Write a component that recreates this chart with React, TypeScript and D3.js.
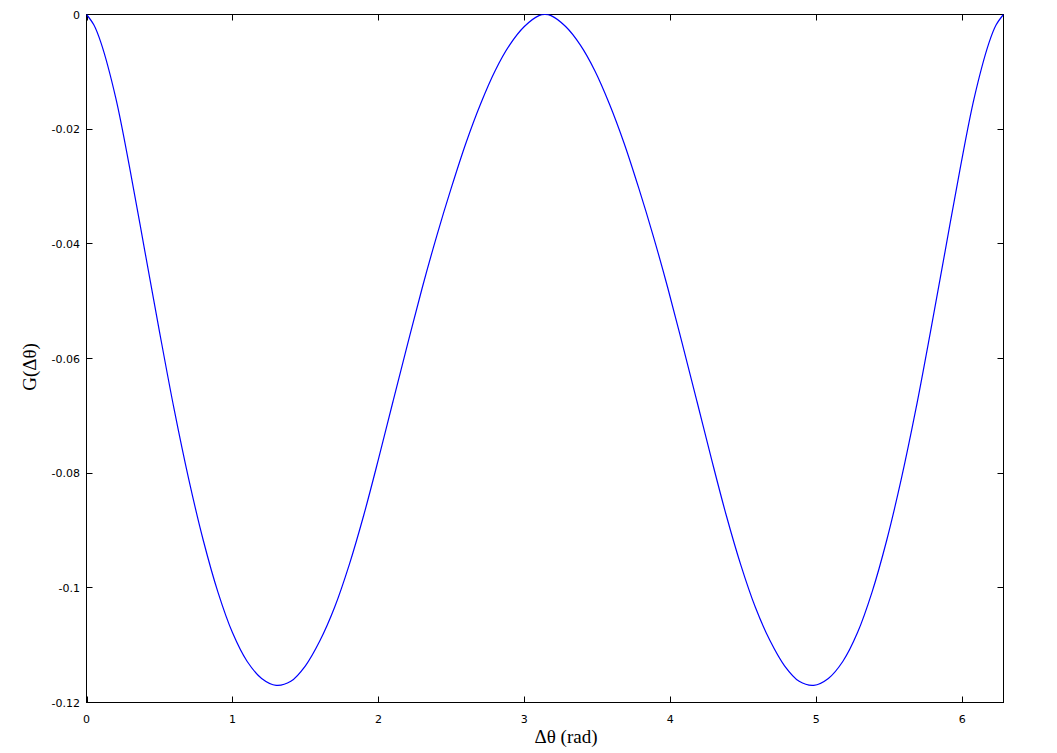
import React from "react";
import * as d3 from "d3";

// Δθ (rad) sample positions
const dTheta: number[] = [
  0, 0.05, 0.1, 0.2, 0.3, 0.4, 0.5, 0.6, 0.7, 0.8, 0.9, 1.0, 1.1, 1.2, 1.3,
  1.4, 1.5, 1.6, 1.7, 1.8, 1.9, 2.0, 2.1, 2.2, 2.3, 2.4, 2.5, 2.6, 2.7, 2.8,
  2.9, 3.0, 3.1, 3.1416,
  3.183, 3.283, 3.383, 3.483, 3.583, 3.683, 3.783, 3.883, 3.983, 4.083,
  4.183, 4.283, 4.383, 4.483, 4.583, 4.683, 4.783, 4.883, 4.983, 5.083,
  5.183, 5.283, 5.383, 5.483, 5.583, 5.683, 5.783, 5.883, 5.983, 6.083,
  6.183, 6.233, 6.2832,
];

// G(Δθ) values
const gValues: number[] = [
  0, -0.0018, -0.005, -0.0145, -0.0273, -0.0413, -0.0553, -0.0688, -0.081, -0.0917,
  -0.1007, -0.1078, -0.1128, -0.1158, -0.117,
  -0.1163, -0.1136, -0.1092, -0.1034, -0.096, -0.0873, -0.0776, -0.0675, -0.0575,
  -0.0477, -0.0386, -0.0302, -0.0224, -0.0156, -0.0098, -0.0053, -0.0021, -0.0002, 0,
  -0.0002, -0.0021, -0.0053, -0.0098, -0.0156, -0.0224, -0.0302, -0.0386, -0.0477,
  -0.0575, -0.0675, -0.0776, -0.0873, -0.096, -0.1034, -0.1092, -0.1136, -0.1163,
  -0.117, -0.1158, -0.1128, -0.1078, -0.1007, -0.0917, -0.081, -0.0688, -0.0553,
  -0.0413, -0.0273, -0.0145, -0.005, -0.0018, 0,
];

const xTicks: number[] = [0, 1, 2, 3, 4, 5, 6];
const yTicks: number[] = [0, -0.02, -0.04, -0.06, -0.08, -0.1, -0.12];
const yTickLabels: string[] = ["0", "-0.02", "-0.04", "-0.06", "-0.08", "-0.1", "-0.12"];

export default function App() {
  const W = 1057;
  const H = 753;
  const left = 86.5, right = 1003.5, top = 14.5, bottom = 702.5;
  const x = d3.scaleLinear().domain([0, 2 * Math.PI]).range([left, right]);
  const y = d3.scaleLinear().domain([-0.12, 0]).range([bottom, top]);
  const data = dTheta.map((d, i) => [d, gValues[i]] as [number, number]);
  const line = d3
    .line<[number, number]>()
    .x((d) => x(d[0]))
    .y((d) => y(d[1]))
    .curve(d3.curveCatmullRom.alpha(0.5));
  const tl = 6;
  const tickFont = "'DejaVu Sans', sans-serif";
  return (
    <svg
      width={W}
      height={H}
      style={{ position: "absolute", left: 0, top: 0, background: "#fff" }}
    >
      <rect x={0} y={0} width={W} height={H} fill="#fff" />
      <defs>
        <clipPath id="plotclip">
          <rect x={left} y={top - 2} width={right - left} height={bottom - top + 2} />
        </clipPath>
      </defs>
      {xTicks.map((t) => {
        const px = Math.round(x(t)) + 0.5;
        return (
          <g key={"x" + t}>
            <line x1={px} x2={px} y1={bottom} y2={bottom - tl} stroke="#000" />
            <line x1={px} x2={px} y1={top} y2={top + tl} stroke="#000" />
            <text
              x={x(t)}
              y={723}
              textAnchor="middle"
              fontFamily={tickFont}
              fontSize={11}
              fill="#000"
            >
              {String(t)}
            </text>
          </g>
        );
      })}
      {yTicks.map((t, i) => {
        const py = Math.round(y(t) - 0.5) + 0.5;
        return (
          <g key={"y" + i}>
            <line x1={left} x2={left + tl} y1={py} y2={py} stroke="#000" />
            <line x1={right} x2={right - tl} y1={py} y2={py} stroke="#000" />
            <text
              x={80}
              y={y(t) + 4}
              textAnchor="end"
              fontFamily={tickFont}
              fontSize={11}
              fill="#000"
            >
              {yTickLabels[i]}
            </text>
          </g>
        );
      })}
      <rect
        x={left}
        y={top}
        width={right - left}
        height={bottom - top}
        fill="none"
        stroke="#000"
        strokeWidth={1}
      />
      <path
        d={line(data) || ""}
        fill="none"
        stroke="#0000ff"
        strokeWidth={1.2}
        clipPath="url(#plotclip)"
      />
      <text
        x={566}
        y={743}
        textAnchor="middle"
        fontFamily="'Liberation Serif', 'Times New Roman', serif"
        fontSize={19}
        fill="#000"
      >
        Δθ (rad)
      </text>
      <text
        transform={`translate(36, 367) rotate(-90)`}
        textAnchor="middle"
        fontFamily="'Liberation Serif', 'Times New Roman', serif"
        fontSize={19}
        fill="#000"
      >
        G(Δθ)
      </text>
    </svg>
  );
}
